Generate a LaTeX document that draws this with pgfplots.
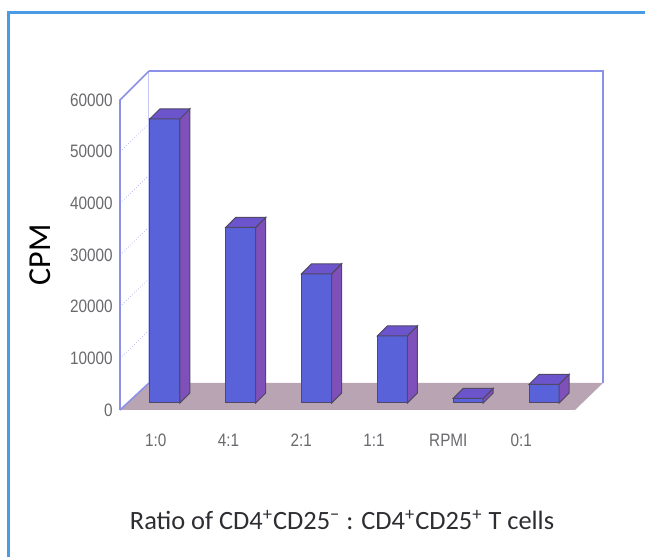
\documentclass[border=0pt]{standalone}
\usepackage{pgfplots}
\usepackage{pgfplotstable}
\pgfplotsset{compat=1.18}
\usepackage{fontspec}
\setmainfont{Carlito}
\newfontfamily\tickfont[FakeStretch=0.85]{Liberation Sans}

\definecolor{framecol}{RGB}{75,155,228}
\definecolor{wallcol}{RGB}{140,145,232}
\definecolor{floorcol}{RGB}{184,164,178}
\definecolor{frontcol}{RGB}{90,98,218}
\definecolor{sidecol}{RGB}{128,80,186}
\definecolor{topcol}{RGB}{108,84,204}
\definecolor{edgecol}{RGB}{80,72,100}
\definecolor{ticktext}{RGB}{105,105,110}

% CPM per ratio (0 = 1:0 ... 5 = 0:1)
\pgfplotstableread{
x y
0 55000
1 34000
2 25000
3 13000
4 900
5 3600
}\cpmdata

\begin{document}
\begin{tikzpicture}
\useasboundingbox (0,0) rectangle (322.5pt,278.5pt);
\draw[framecol, line width=1.5pt] (4.5pt,0pt) -- (4.5pt,272pt) -- (322.5pt,272pt);
\begin{axis}[
    at={(60pt,73.5pt)}, anchor=south west,
    scale only axis, width=227.5pt, height=155pt,
    xmin=-0.5, xmax=5.5, ymin=0, ymax=60000,
    clip=false,
    axis line style={draw=none},
    major tick length=0pt,
    ytick={0,10000,...,60000},
    scaled y ticks=false,
    /pgf/number format/assume math mode=true,
    /pgf/number format/1000 sep={},
    yticklabel style={inner sep=0pt, xshift=-3.5pt,
      font=\tickfont\fontsize{9}{10}\selectfont, text=ticktext},
    xtick={-0.03,0.93,1.89,2.85,3.83,4.79},
    xticklabels={1:0,4:1,2:1,1:1,RPMI,0:1},
    xticklabel style={inner sep=0pt, anchor=north, yshift=-12pt,
      font=\tickfont\fontsize{9}{10}\selectfont, text=ticktext},
    ylabel={CPM},
    ylabel style={at={(axis description cs:-0.176,0.5)}, anchor=center,
      rotate=0, font=\fontsize{16}{18}\selectfont},
    xlabel={Ratio of CD4\textsuperscript{+}CD25\textsuperscript{−} : CD4\textsuperscript{+}CD25\textsuperscript{+} T cells},
    xlabel style={at={(axis description cs:0.488,-0.355)}, anchor=center,
      font=\fontsize{13.2}{15}\selectfont, text={rgb,255:red,45;green,45;blue,50}},
    ]
% floor and walls
\fill[floorcol] (axis cs:-0.5,0) -- (axis cs:5.5,0)
  -- ([shift={(14pt,13.5pt)}]axis cs:5.5,0)
  -- ([shift={(14.5pt,13.5pt)}]axis cs:-0.5,0) -- cycle;
\pgfplotsinvokeforeach{10000,20000,30000,40000,50000}{
  \draw[wallcol!60, densely dotted, line width=0.4pt] (axis cs:-0.5,#1) -- ++(14.5pt,14pt);
}
\draw[wallcol!50, line width=0.5pt] ([shift={(14.5pt,13.5pt)}]axis cs:-0.5,0) -- ([shift={(14.5pt,14.5pt)}]axis cs:-0.5,60000);
\draw[wallcol, line width=0.8pt] ([shift={(14.5pt,14.5pt)}]axis cs:-0.5,60000)
  -- ([shift={(14pt,14.5pt)}]axis cs:5.5,60000)
  -- ([shift={(14pt,13.5pt)}]axis cs:5.5,0);
\draw[wallcol, line width=0.8pt] (axis cs:-0.5,0) -- (axis cs:-0.5,60000) -- ++(14.5pt,14.5pt);
\draw[wallcol, line width=0.8pt] (axis cs:-0.5,0) -- ++(14.5pt,13.5pt);
% bar fronts
\addplot[ybar, bar width=15pt, bar shift=0pt, fill=frontcol, draw=edgecol,
  line width=0.5pt, xshift=3.5pt, yshift=3.5pt] table[x=x,y=y] {\cpmdata};
% bar tops and sides
\addplot[scatter, only marks, mark=text, text mark={},
  visualization depends on={\thisrow{y} \as \rawv},
  scatter/@pre marker code/.code={%
    \pgfkeys{/pgf/fpu=true,/pgf/fpu/output format=fixed}%
    \pgfmathparse{3.5-\rawv/60000*155}\global\let\yb\pgfmathresult
    \pgfmathparse{8.5-\rawv/60000*155}\global\let\ybb\pgfmathresult
    \pgfkeys{/pgf/fpu=false}%
    \filldraw[fill=sidecol, draw=edgecol, line width=0.5pt]
      (11pt,3.5pt) -- (16pt,8.5pt) -- (16pt,\ybb pt) -- (11pt,\yb pt) -- cycle;
    \filldraw[fill=topcol, draw=edgecol, line width=0.5pt]
      (-4pt,3.5pt) -- (11pt,3.5pt) -- (16pt,8.5pt) -- (1pt,8.5pt) -- cycle;
  },
  scatter/@post marker code/.code={}
  ] table[x=x,y=y] {\cpmdata};
\end{axis}
\end{tikzpicture}
\end{document}
